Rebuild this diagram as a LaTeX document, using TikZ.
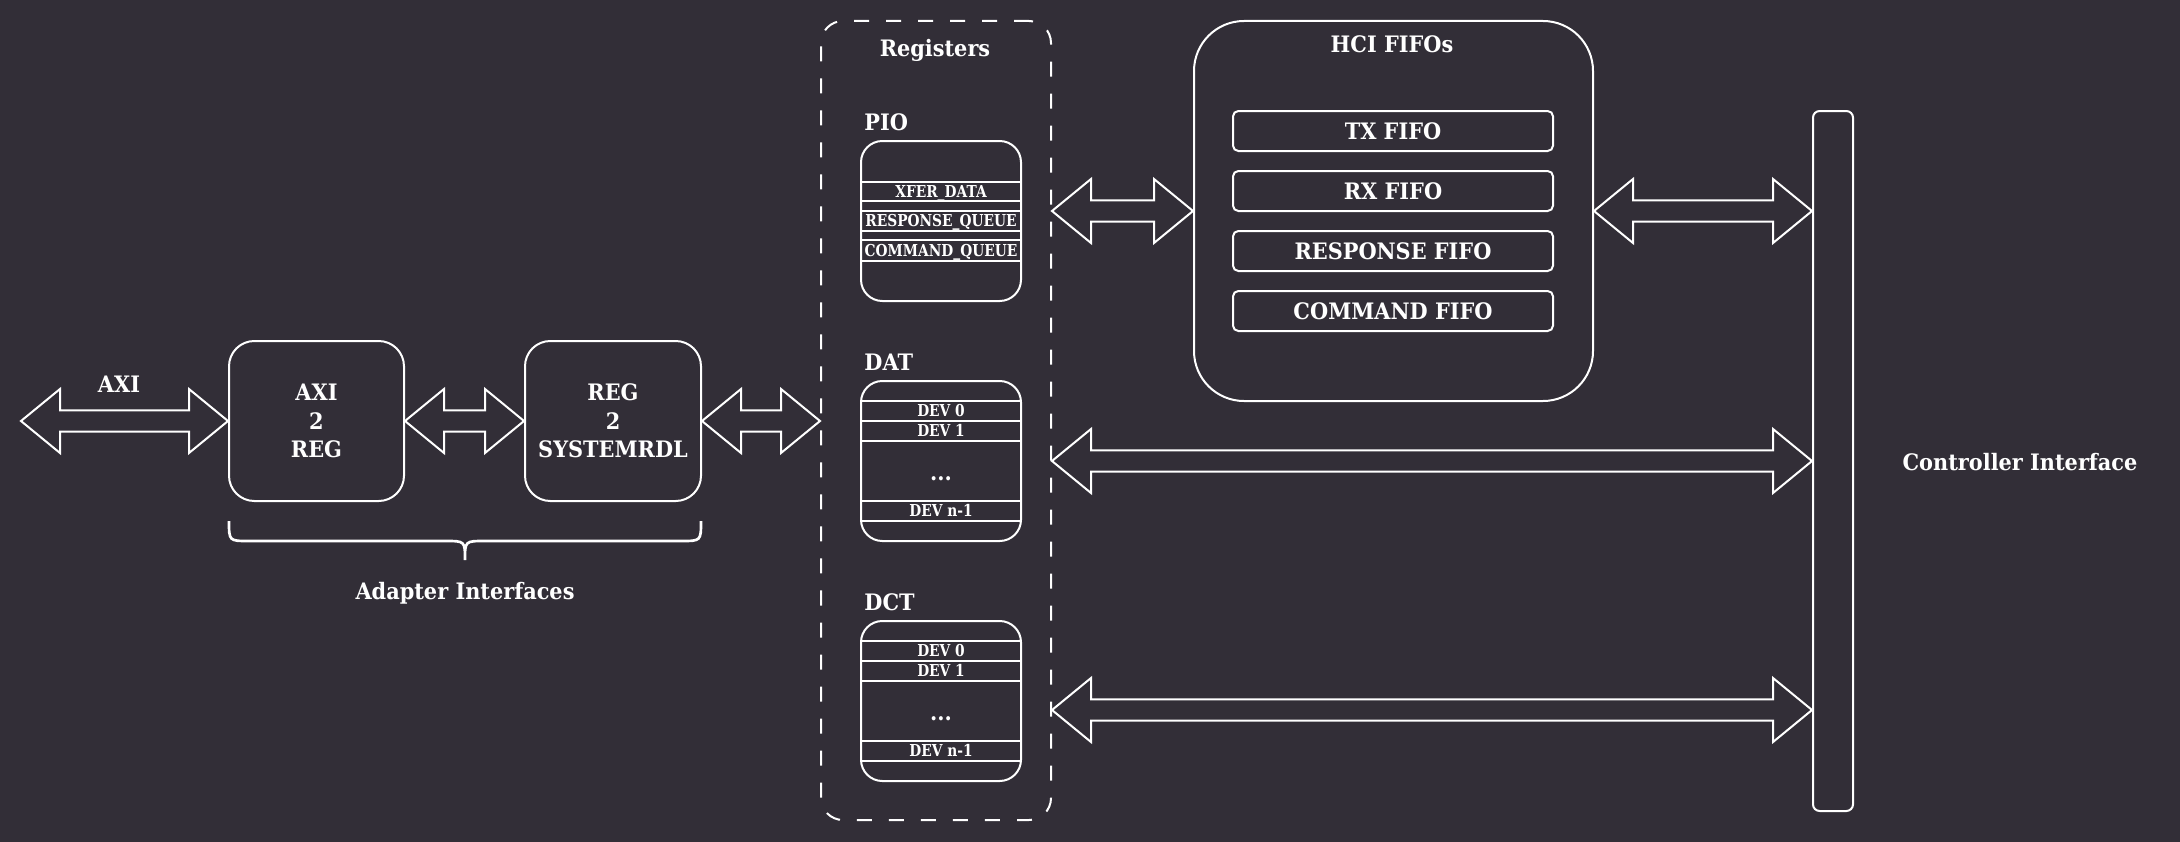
\documentclass[tikz,border=0pt]{standalone}
\usepackage{fontspec}
\setmainfont{DejaVu Serif}[BoldFont={DejaVu Serif Bold},FakeStretch=0.92]
\newfontfamily\smallfam{DejaVu Serif}[BoldFont={DejaVu Serif Bold},FakeStretch=0.84]
\usetikzlibrary{calc}
\definecolor{bg}{RGB}{50,46,55}
\newcommand\dblarrow[2]{%
  \draw[barrow] let \p1=(#1), \p2=(#2) in
   (\x1,\y1) -- (\x1+29.25pt,\y1+24pt) -- (\x1+29.25pt,\y1+7.9pt)
   -- (\x2-29.25pt,\y1+7.9pt) -- (\x2-29.25pt,\y1+24pt) -- (\x2,\y1)
   -- (\x2-29.25pt,\y1-24pt) -- (\x2-29.25pt,\y1-7.9pt)
   -- (\x1+29.25pt,\y1-7.9pt) -- (\x1+29.25pt,\y1-24pt) -- cycle;}
\begin{document}
\begin{tikzpicture}[x=0.75pt,y=-0.75pt,line width=1.5pt,white,
  big/.style={font=\bfseries\fontsize{17}{21.5}\selectfont,text=white},
  small/.style={font=\smallfam\bfseries\fontsize{12.3}{15}\selectfont,text=white},
  box/.style={draw=white,rounded corners=#1,inner sep=0pt},
  box/.default=18pt,
  rowbox/.style={draw=white,small,minimum width=120pt,minimum height=15pt,inner sep=0pt,text height=8.9pt,text depth=0pt},
  fifo/.style={box=4pt,big,minimum width=240pt,minimum height=30pt,text height=12.4pt,text depth=0pt},
  regbox/.style={box=16pt,minimum width=120pt,minimum height=120pt},
  barrow/.style={draw=white,line width=1.5pt,line join=miter},
  dashbox/.style={draw=white,dash pattern=on 11.25pt off 12.75pt,rounded corners=16.5pt,inner sep=0pt}]
\fill[bg] (0,0) rectangle (2180,842);
\useasboundingbox (0,0) rectangle (2180,842);

% adapter blocks
\coordinate (axiL) at (21,421);
\node[big,anchor=base] (axilbl) at (119,392) {AXI};
\node[box=19pt,big,align=center,minimum width=131.25pt,minimum height=120pt] (axi) at (316.5,421) {AXI\\2\\REG};
\node[box=19pt,big,align=center,minimum width=132pt,minimum height=120pt] (reg) at (613,421) {REG\\2\\SYSTEMRDL};
\draw[line width=2pt] (229,521) .. controls (229,541) and (229,541) .. (249,541) -- (445,541)
  .. controls (465,541) and (465,541) .. (465,560)
  .. controls (465,541) and (465,541) .. (485,541) -- (681,541)
  .. controls (701,541) and (701,541) .. (701,521);
\node[big,anchor=base] (adlbl) at (465,599) {Adapter Interfaces};

% registers
\node[dashbox,minimum width=172.5pt,minimum height=599.25pt] (regs) at (936,420.5) {};
\node[big,anchor=base] (regslbl) at (935,57) {Registers};

\node[big,anchor=base west] (piolbl) at (859,130) {PIO};
\node[regbox] (pio) at (941,221) {};
\node[rowbox,minimum height=14.25pt] (xfer) at (941,191.5) {XFER\_DATA};
\node[rowbox,minimum height=15pt] (respq) at (941,221) {RESPONSE\_QUEUE};
\node[rowbox,minimum height=15.75pt] (cmdq) at (941,250.5) {COMMAND\_QUEUE};

\node[big,anchor=base west] (datlbl) at (859,370) {DAT};
\node[regbox] (dat) at (941,461) {};
\node[rowbox] (dat0) at (941,411) {DEV 0};
\node[rowbox] (dat1) at (941,431) {DEV 1};
\node[big,anchor=base] (datdots) at (941,480) {...};
\node[rowbox] (datn) at (941,511) {DEV n-1};

\node[big,anchor=base west] (dctlbl) at (859,610) {DCT};
\node[regbox] (dct) at (941,701) {};
\node[rowbox] (dct0) at (941,651) {DEV 0};
\node[rowbox] (dct1) at (941,671) {DEV 1};
\node[big,anchor=base] (dctdots) at (941,720) {...};
\node[rowbox] (dctn) at (941,751) {DEV n-1};

% HCI FIFOs
\node[box=37.5pt,minimum width=299.25pt,minimum height=285pt] (hci) at (1393.5,211) {};
\node[big,anchor=base] (hcilbl) at (1392,53) {HCI FIFOs};
\node[fifo] (tx) at (1393,131) {TX FIFO};
\node[fifo] (rx) at (1393,191) {RX FIFO};
\node[fifo] (rsp) at (1393,251) {RESPONSE FIFO};
\node[fifo] (cmd) at (1393,311) {COMMAND FIFO};

% controller
\node[box=5pt,minimum width=30pt,minimum height=525pt] (ctrl) at (1833,461) {};
\node[big,anchor=base] (ctrllbl) at (2020,470) {Controller Interface};

\coordinate (dctarr) at (1100,710);

% block arrows
\dblarrow{axiL}{axi.west}
\dblarrow{axi.east}{reg.west}
\dblarrow{reg.east}{regs.west |- reg.east}
\dblarrow{regs.east |- hci.west}{hci.west}
\dblarrow{hci.east}{ctrl.west |- hci.east}
\dblarrow{regs.east |- dat.east}{ctrl.west |- dat.east}
\dblarrow{regs.east |- dctarr}{ctrl.west |- dctarr}
\end{tikzpicture}
\end{document}
